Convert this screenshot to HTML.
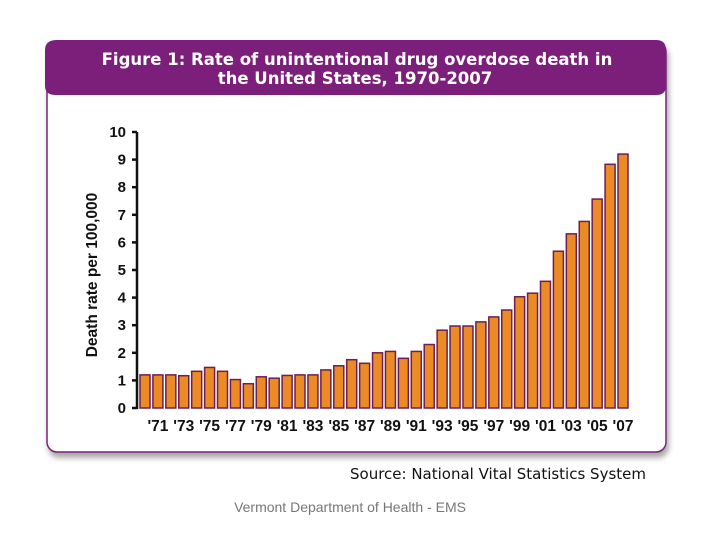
<!DOCTYPE html>
<html><head><meta charset="utf-8"><style>
body{margin:0;background:#fff;width:720px;height:540px;overflow:hidden;font-family:"Liberation Sans",sans-serif}
</style></head><body>
<svg width="720" height="540">
<defs><filter id="sh" x="-5%" y="-5%" width="110%" height="115%"><feDropShadow dx="2" dy="5" stdDeviation="3" flood-color="#000" flood-opacity="0.35"/></filter></defs>
<rect x="47" y="42" width="619" height="410" rx="10" fill="#fff" stroke="#7b2279" stroke-width="1.5" filter="url(#sh)"/>
<path d="M57,40 H656 Q666,40 666,50 V86 Q666,95 656,95 H56 Q45,95 45,86 V50 Q45,40 57,40 Z" fill="#7b1f7b"/>
<text x="357" y="65" text-anchor="middle" fill="#fff" font-weight="bold" font-size="16.5" font-family="DejaVu Sans,sans-serif">Figure 1: Rate of unintentional drug overdose death in</text>
<text x="355" y="84" text-anchor="middle" fill="#fff" font-weight="bold" font-size="16.5" font-family="DejaVu Sans,sans-serif">the United States, 1970-2007</text>
<text transform="translate(97,275) rotate(-90)" text-anchor="middle" font-weight="bold" font-size="15.5" fill="#111">Death rate per 100,000</text>
<g id="axes"></g>
<g id="bars"></g>
<text x="646" y="479" text-anchor="end" font-size="15" fill="#111" font-family="DejaVu Sans,sans-serif">Source: National Vital Statistics System</text>
<text x="350" y="512" text-anchor="middle" font-size="14" fill="#777">Vermont Department of Health - EMS</text>
</svg>
<script>
const years=[1970,1971,1972,1973,1974,1975,1976,1977,1978,1979,1980,1981,1982,1983,1984,1985,1986,1987,1988,1989,1990,1991,1992,1993,1994,1995,1996,1997,1998,1999,2000,2001,2002,2003,2004,2005,2006,2007];
const rates=[1.2,1.2,1.2,1.17,1.33,1.47,1.33,1.03,0.88,1.13,1.08,1.18,1.2,1.2,1.38,1.53,1.75,1.62,2.0,2.05,1.8,2.05,2.3,2.82,2.97,2.97,3.12,3.3,3.55,4.03,4.16,4.59,5.68,6.31,6.76,7.57,8.83,9.2];
const yTicks=[0,1,2,3,4,5,6,7,8,9,10];
const NS="http://www.w3.org/2000/svg";
const y0=408,yTop=132,x0=145,pitch=(623-145)/37;
const y=v=>y0-(y0-yTop)*v/10;
const x=i=>x0+i*pitch;
const ax=document.getElementById('axes'),bg=document.getElementById('bars');
function mk(t,a,p){const e=document.createElementNS(NS,t);for(const k in a)e.setAttribute(k,a[k]);p.appendChild(e);return e;}
const yl=mk('line',{x1:137,x2:137,y1:yTop,y2:y0+1,stroke:'#111','stroke-width':2.5},ax);


yTicks.forEach(v=>{
 const tk=mk('line',{x1:132,x2:137,y1:y(v),y2:y(v),stroke:'#111','stroke-width':2.5},ax);
 
 
 const t=mk('text',{x:126,y:y(v)+5,'text-anchor':'end','font-size':15,'font-weight':'bold',fill:'#111'},ax);
 t.textContent=v;
 
 
});
years.forEach((yr,i)=>{
 const b=mk('rect',{x:x(i)-5,y:y(rates[i]),width:10,height:y0-y(rates[i]),fill:'#ec8a25',stroke:'#6b1f52','stroke-width':1.5},bg);
 
 
 if(yr%2===1){
  const t=mk('text',{x:x(i),y:431,'text-anchor':'middle','font-size':15.5,'font-weight':'bold',fill:'#111'},ax);
  t.textContent="'"+String(yr).slice(2);
  
  
 }
});
</script>
</body></html>
